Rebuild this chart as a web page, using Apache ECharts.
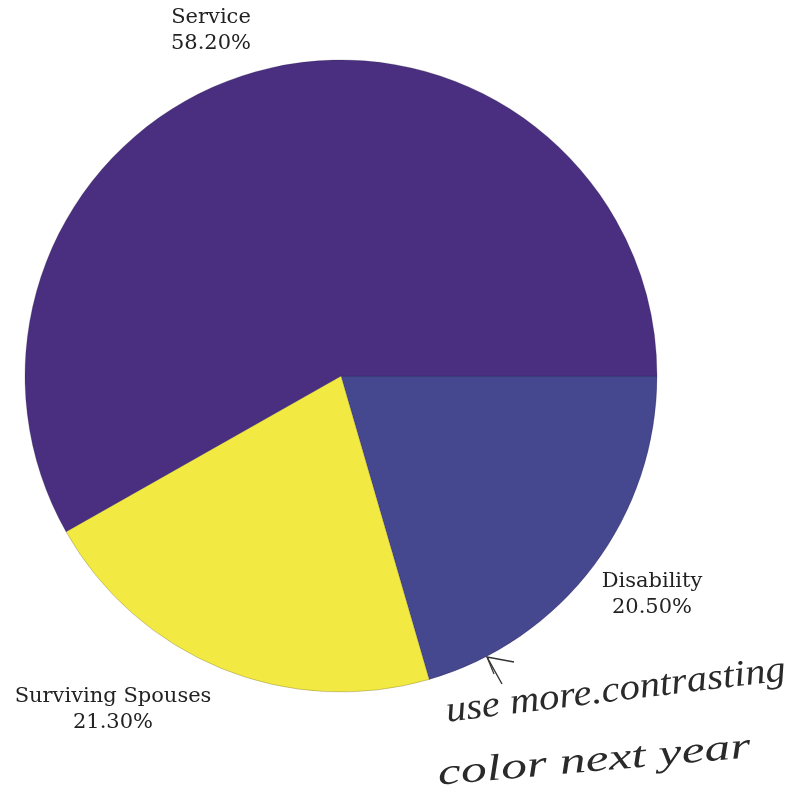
<!DOCTYPE html>
<html>
<head>
<meta charset="utf-8">
<script src="https://cdn.jsdelivr.net/npm/echarts@6/dist/echarts.min.js"></script>
<style>
  html, body { margin: 0; padding: 0; background: #ffffff; }
  #chart { width: 791px; height: 805px; }
</style>
</head>
<body>
<div id="chart"></div>
<script>
// Benefit categories and their share of the total (percent)
const categories = ['Disability', 'Surviving Spouses', 'Service'];
const shares = [20.5, 21.3, 58.2];
const sliceColors = ['#45478f', '#f2e942', '#4a2f80'];

// Where each category label sits, keyed by category
const labelSpots = {
  'Service': [211, 31],
  'Disability': [652, 595],
  'Surviving Spouses': [113, 710]
};

const chart = echarts.init(document.getElementById('chart'), null, { renderer: 'canvas' });

chart.setOption({
  backgroundColor: '#ffffff',
  animation: false,
  series: [{
    type: 'pie',
    center: [341, 376],
    radius: 316,
    startAngle: 0,
    clockwise: true,
    data: categories.map((name, i) => ({
      name: name,
      value: shares[i],
      itemStyle: { color: sliceColors[i] }
    })),
    itemStyle: { borderColor: 'rgba(30,20,50,0.35)', borderWidth: 0.6 },
    label: {
      show: true,
      position: 'outside',
      formatter: p => p.name + '\n' + p.value.toFixed(2) + '%',
      fontFamily: 'DejaVu Serif',
      fontSize: 21,
      lineHeight: 26,
      color: '#222222',
      align: 'center',
      overflow: 'none',
      width: 260
    },
    labelLine: { show: false },
    labelLayout: function (params) {
      const name = categories[params.dataIndex];
      const spot = labelSpots[name];
      return { x: spot[0], y: spot[1], align: 'center', verticalAlign: 'middle' };
    },
    emphasis: { disabled: true }
  }],
  graphic: [
    {
      // pen arrow pointing at the Disability slice
      type: 'polyline',
      shape: { points: [[514, 662], [487, 657], [502, 684]] },
      style: { stroke: '#333333', lineWidth: 1.4, fill: null }
    },
    {
      type: 'line',
      shape: { x1: 487, y1: 657, x2: 494, y2: 674 },
      style: { stroke: '#333333', lineWidth: 1.2 }
    },
    {
      type: 'text',
      x: 446, y: 712,
      rotation: 7 * Math.PI / 180,
      scaleX: 1.1,
      style: {
        text: 'use more.contrasting',
        font: 'italic 37px "Liberation Serif"',
        fill: '#2a2a2a',
        textVerticalAlign: 'middle'
      }
    },
    {
      type: 'text',
      x: 438, y: 775,
      rotation: 5 * Math.PI / 180,
      scaleX: 1.4,
      style: {
        text: 'color next year',
        font: 'italic 37px "Liberation Serif"',
        fill: '#2a2a2a',
        textVerticalAlign: 'middle'
      }
    }
  ]
});
</script>
</body>
</html>
